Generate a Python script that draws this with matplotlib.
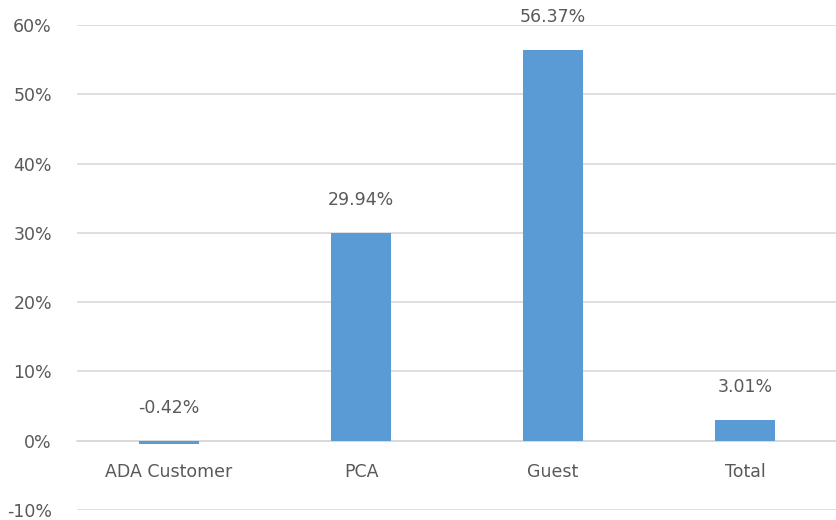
import matplotlib.pyplot as plt
from matplotlib.ticker import FuncFormatter

categories = ['ADA Customer', 'PCA', 'Guest', 'Total']
values = [-0.42, 29.94, 56.37, 3.01]
y_ticks = [-10, 0, 10, 20, 30, 40, 50, 60]

bar_color = '#5B9BD5'
text_color = '#595959'
font = ['DejaVu Sans']

fig = plt.figure(figsize=(8.37, 5.2), dpi=100)
ax = fig.add_axes([77 / 837, 10 / 520, 760 / 837, 485 / 520])

x = range(len(categories))
ax.bar(x, values, width=0.31, color=bar_color, zorder=3)

# data labels above bars (negative one sits above the zero line like in Excel)
for i, v in enumerate(values):
    ax.annotate(f'{v:.2f}%', (i, max(v, 0)), xytext=(0, 24), textcoords='offset pixels',
                ha='center', va='bottom', fontsize=12.5, color=text_color, family=font)

ax.set_xlim(-0.48, 3.48)
ax.set_ylim(-10, 60)
ax.set_yticks(y_ticks)
ax.yaxis.set_major_formatter(FuncFormatter(lambda v, p: f'{v:.0f}%'))
ax.grid(axis='y', color='#D9D9D9', linewidth=1.2, zorder=0)

for s in ['top', 'right', 'left']:
    ax.spines[s].set_visible(False)
ax.spines['bottom'].set_position(('data', 0))
ax.spines['bottom'].set_color('#D9D9D9')
ax.spines['bottom'].set_linewidth(1.2)

ax.set_xticks(list(x))
ax.set_xticklabels(categories)
ax.tick_params(axis='x', length=0, pad=16, labelsize=12.5, labelcolor=text_color)
ax.tick_params(axis='y', length=0, pad=18, labelsize=12.5, labelcolor=text_color)
for lbl in ax.get_xticklabels() + ax.get_yticklabels():
    lbl.set_family(font)

fig.savefig('out.png', dpi=100)
